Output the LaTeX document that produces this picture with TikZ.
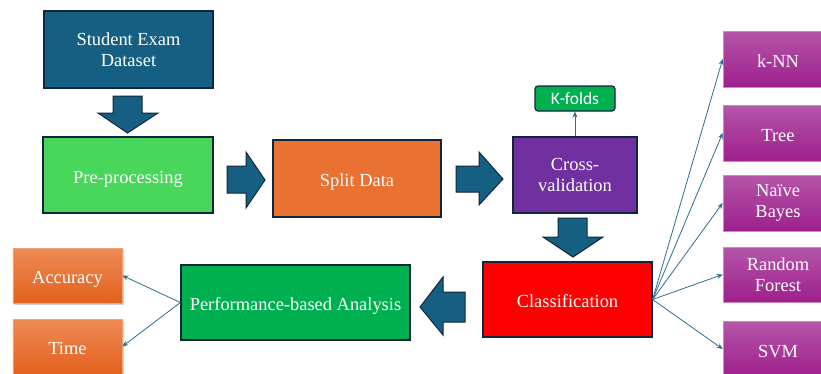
\documentclass[tikz,border=0pt]{standalone}
\usepackage{fontspec}
\setmainfont{Liberation Serif}
\newfontfamily\kfont{Carlito}
\usetikzlibrary{arrows.meta,shadows}
\definecolor{dblue}{HTML}{156082}
\definecolor{bord}{HTML}{10263A}
\definecolor{pgreen}{HTML}{48D65B}
\definecolor{sorange}{HTML}{E97132}
\definecolor{cvpurple}{HTML}{7030A0}
\definecolor{pgreen2}{HTML}{00B050}
\definecolor{magtop}{HTML}{B456A8}
\definecolor{magbot}{HTML}{9E1F8D}
\definecolor{ortop}{HTML}{EF8A55}
\definecolor{orbot}{HTML}{E2611E}
\definecolor{conn}{HTML}{2E6E8E}
\tikzset{
  box/.style={draw=bord, line width=1.2bp, text=white, align=center, inner sep=0pt,
    font=\fontsize{18.5}{21}\selectfont},
  oneline/.style={text height=18bp, text depth=2bp},
  magbox/.style={draw=magtop!70!white, line width=0.6bp, top color=magtop, bottom color=magbot,
    text=white, align=center, inner sep=0pt, font=\fontsize{18.5}{21}\selectfont},
  orbox/.style={draw=ortop!80!white, line width=0.6bp, top color=ortop, bottom color=orbot,
    text=white, align=center, inner sep=0pt, font=\fontsize{18.5}{21}\selectfont,
    drop shadow={opacity=0.35, shadow xshift=1.5bp, shadow yshift=-1.5bp}},
  blockarrow/.style={fill=dblue, draw=bord, line width=1bp, line join=miter},
  conline/.style={draw=conn, line width=0.8bp, -{Stealth[length=6bp,width=5bp]}}
}
\begin{document}
\begin{tikzpicture}[x=1bp,y=-1bp]
\useasboundingbox (0,0) rectangle (821,373);
% main boxes
\node[box, fill=dblue, minimum width=169bp, minimum height=77bp] (data) at (128.5,49.5) {Student Exam\\Dataset};
\node[box, oneline, fill=pgreen, minimum width=170bp, minimum height=76bp] (pre) at (128,175) {Pre-processing};
\node[box, oneline, fill=sorange, minimum width=168bp, minimum height=77bp] (split) at (357,178.5) {Split Data};
\node[box, fill=cvpurple, minimum width=124bp, minimum height=76bp] (cv) at (575,175) {Cross-\\validation};
\node[draw=bord, line width=1.2bp, fill=pgreen2, rounded corners=3bp, text=white, inner sep=0pt,
      minimum width=80bp, minimum height=25bp, font=\kfont\fontsize{17.5}{19}\selectfont] (kf) at (575,98.5) {K-folds};
\node[box, oneline, fill=red, minimum width=169bp, minimum height=75bp] (cls) at (567.5,299.5) {Classification};
\node[box, oneline, fill=pgreen2, minimum width=229bp, minimum height=75bp] (perf) at (295.5,302.5) {Performance-based Analysis};
% classifiers
\node[magbox, oneline, minimum width=110bp, minimum height=56bp] (knn) at (778,59) {k-NN};
\node[magbox, oneline, minimum width=110bp, minimum height=56bp] (tree) at (778,133) {Tree};
\node[magbox, minimum width=110bp, minimum height=56bp] (nb) at (778,203) {Naïve\\Bayes};
\node[magbox, minimum width=110bp, minimum height=55bp] (rf) at (778,274.5) {Random\\Forest};
\node[magbox, oneline, minimum width=110bp, minimum height=56bp] (svm) at (778,349) {SVM};
% metrics
\node[orbox, oneline, minimum width=109bp, minimum height=55bp] (acc) at (67.5,275.5) {Accuracy};
\node[orbox, oneline, minimum width=109bp, minimum height=55bp] (time) at (67.5,346.5) {Time};
% block arrows
\draw[blockarrow] (113,96) -- (142,96) -- (142,113) -- (158,113) -- (127.5,133) -- (98,113) -- (113,113) -- cycle;
\draw[blockarrow] (227,166) -- (246,166) -- (246,152) -- (265,180) -- (246,208) -- (246,193) -- (227,193) -- cycle;
\draw[blockarrow] (456,166) -- (479,166) -- (479,152) -- (503,179) -- (479,205) -- (479,192) -- (456,192) -- cycle;
\draw[blockarrow] (558,218) -- (587,218) -- (587,237) -- (603,237) -- (573,257) -- (543,237) -- (558,237) -- cycle;
\draw[blockarrow] (465,292) -- (443,292) -- (443,277) -- (420,307) -- (443,335) -- (443,322) -- (465,322) -- cycle;
% connectors
\draw[conline] (cv.north) -- (kf.south);
\foreach \t in {knn,tree,nb,rf,svm} \draw[conline] (cls.east) -- (\t.west);
\draw[conline] (perf.west) -- (acc.east);
\draw[conline] (perf.west) -- (time.east);
\end{tikzpicture}
\end{document}
